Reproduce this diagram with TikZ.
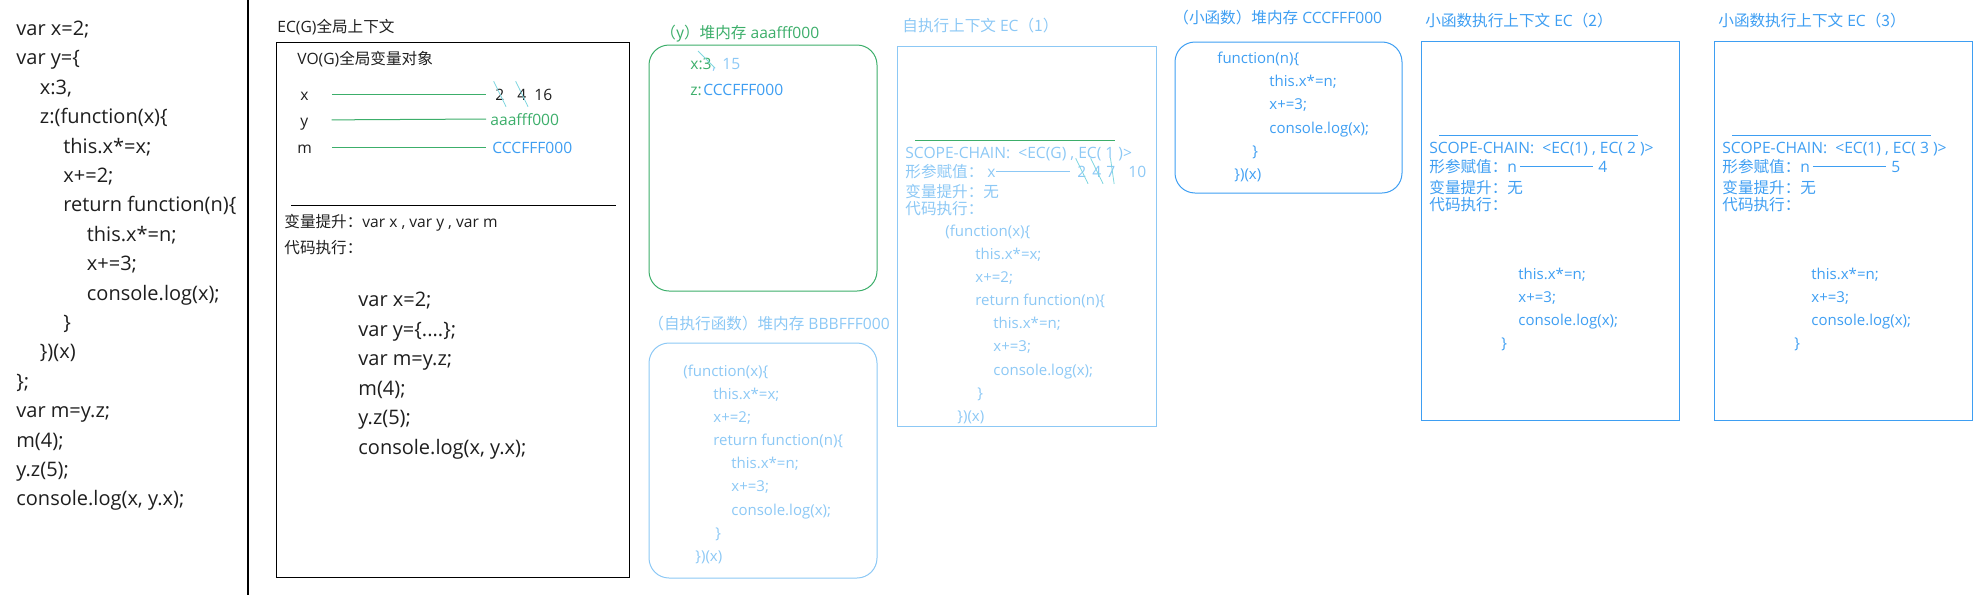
\documentclass[tikz,border=0pt]{standalone}
\usepackage{fontspec}
\setmainfont{Open Sans}
\newfontfamily\cjk{Noto Sans CJK SC}
\usepackage{tikz}
\usetikzlibrary{positioning}
\definecolor{jsgreen}{HTML}{3CAE6A}
\definecolor{jsblue}{HTML}{3E9EF2}
\definecolor{jslight}{HTML}{8CC8F5}
\definecolor{jsstrike}{HTML}{7FD6DF}
\definecolor{jsink}{HTML}{1E1E1E}
\newcommand{\zh}[1]{{\cjk #1}}
\newcommand{\codesize}{\fontsize{10}{12}\selectfont}
\newcommand{\smallsize}{\fontsize{7.5}{9}\selectfont}
\newcommand{\labelsize}{\fontsize{7.8}{9}\selectfont}
\tikzset{
  txt/.style={anchor=west, inner sep=0pt, text height=1.5ex, text depth=0.3ex, text=jsink},
  code/.style={txt, font=\codesize},
  smallcode/.style={txt, font=\smallsize},
  lbl/.style={txt, font=\labelsize},
  heap/.style={rounded corners=10pt, line width=0.5pt},
  ctxbox/.style={line width=0.5pt},
  strike/.style={draw=jsstrike, line width=0.4pt, shorten <=-1.5pt, shorten >=-1.5pt},
}
% body of the self-invoking function: line/xshift/text
\newcommand{\selfcode}{1/0/(function(x)\{, 2/30/this.x*=x;, 3/30/x+=2;,
  4/30/return function(n)\{, 5/48/this.x*=n;, 6/48/x+=3;,
  7/48/console.log(x);, 8/32/\}, 9/12/\})(x)}

\begin{document}
\begin{tikzpicture}[x=0.5pt, y=-0.5pt]

\useasboundingbox (0,0) rectangle (1984,595);

% ---------- Source code ----------
\foreach \i/\ind/\t in {1/0/var x=2;, 2/0/var y=\{, 3/1/{x:3,}, 4/1/z:(function(x)\{,
  5/2/this.x*=x;, 6/2/x+=2;, 7/2/return function(n)\{, 8/3/this.x*=n;, 9/3/x+=3;,
  10/3/console.log(x);, 11/2/\}, 12/1/\})(x), 13/0/\};, 14/0/var m=y.z;,
  15/0/m(4);, 16/0/y.z(5);, 17/0/{console.log(x, y.x);}}{
  \node[code] (src\i) at ({16+\ind*23.5},{29+(\i-1)*29.4}) {\t};
}

% divider
\draw[line width=0.8pt] (248,0) -- (248,595);

% ---------- Global context EC(G) ----------
\node[lbl] (ecgTitle) at (277,26) {EC(G)\zh{全局上下文}};
\draw[ctxbox] (276,42) rectangle (629,577);
\node[lbl] (voTitle) at (297,58) {VO(G)\zh{全局变量对象}};

\node[lbl] (varx) at (300,94) {x};
\node[lbl] (vary) at (300,120) {y};
\node[lbl] (varm) at (297,147) {m};

\foreach \v/\px in {2/495, 4/517, 16/534}{
  \node[lbl] (valx\v) at (\px,94) {\v};
}
\node[lbl, text=jsgreen] (valy) at (490,119) {aaafff000};
\node[lbl, text=jsblue] (valm) at (492,147) {CCCFFF000};

\foreach \a/\b/\s/\e in {varx/valx2/11.5/4.5, vary/valy/11.5/2, varm/valm/9.75/3}{
  \draw[jsgreen, line width=0.5pt, shorten <=\s pt, shorten >=\e pt] (\a.east) -- (\b.west);
}
\foreach \v in {2,4}{
  \draw[strike] (valx\v.north west) -- (valx\v.south east);
}

\draw[line width=0.5pt] (291,205) -- (616,205);
\node[lbl] (ecgHoist) at (284,221) {\zh{变量提升：}var x , var y , var m};
\node[lbl] (ecgExec) at (284,247) {\zh{代码执行：}};

\foreach \i/\t in {1/var x=2;, 2/{var y=\{....\};}, 3/var m=y.z;, 4/m(4);,
  5/y.z(5);, 6/{console.log(x, y.x);}}{
  \node[code] (ecgCode\i) at (358,{300+(\i-1)*29.6}) {\t};
}

% ---------- Heap of y ----------
\node[lbl, text=jsgreen] (yHeapTitle) at (660,32) {\zh{（y）堆内存} aaafff000};
\draw[heap, jsgreen] (649,45) rectangle (877,291);
\node[lbl, text=jsgreen] (heapx) at (690,63) {x:3};
\node[lbl, text=jslight, font=\smallsize, anchor=south west] (heapxc) at (heapx.south east) {,};
\node[lbl, text=jslight] (heapx15) at (722,63) {15};
\draw[strike, shorten <=0pt] (698,51) -- (713,66);
\node[lbl, text=jsgreen] (heapz) at (690,89) {z:};
\node[lbl, text=jsblue] (heapzv) at (703,89) {CCCFFF000};

% ---------- Heap of the self-invoking function ----------
\node[lbl, text=jslight] (selfHeapTitle) at (648,323) {\zh{（自执行函数）堆内存} BBBFFF000};
\draw[heap, jslight] (649,343) rectangle (877,578);
\foreach \i/\dx/\t in \selfcode{
  \node[smallcode, text=jslight] (selfCode\i) at ({683+\dx},{370+(\i-1)*23.1}) {\t};
}

% ---------- EC(1) ----------
\node[lbl, text=jslight] (ec1Title) at (902,25) {\zh{自执行上下文} EC\zh{（1）}};
\draw[ctxbox, jslight] (897,46) rectangle (1156,426);
\draw[jsgreen, line width=0.5pt] (915,140) -- (1115,140);
\node[lbl, text=jslight] (ec1Scope) at (905,152) {SCOPE-CHAIN:\ \ <EC(G) , EC( 1 )>};
\node[lbl, text=jslight] (ec1Arg) at (905,171) {\zh{形参赋值：}};
\node[lbl, text=jslight] (ec1x) at (987,171) {x};
\foreach \v/\px in {2/1077, 4/1092, 7/1106, 10/1128}{
  \node[lbl, text=jslight] (ec1v\v) at (\px,171) {\v};
}
\draw[jslight, line width=0.5pt, shorten >=3.5pt] (ec1x.east) -- (ec1v2.west);
\foreach \v in {2,4}{
  \draw[strike] (ec1v\v.north west) -- (ec1v\v.south east);
}
\draw[strike] (ec1v7.north) -- ([xshift=-1pt]ec1v7.south east);
\node[lbl, text=jslight] (ec1Hoist) at (905,191) {\zh{变量提升：}};
\node[lbl, text=jslight] (ec1None) at (983,191) {\zh{无}};
\node[lbl, text=jslight] (ec1Exec) at (905,208) {\zh{代码执行：}};
\foreach \i/\dx/\t in \selfcode{
  \node[smallcode, text=jslight] (ec1Code\i) at ({945+\dx},{230+(\i-1)*23.1}) {\t};
}

% ---------- Heap of the small function ----------
\node[lbl, text=jsblue] (smallHeapTitle) at (1173,17) {\zh{（小函数）堆内存} CCCFFF000};
\draw[heap, jsblue] (1175,42) rectangle (1402,193);
\foreach \i/\dx/\t in {1/0/function(n)\{, 2/52/this.x*=n;, 3/52/x+=3;,
  4/52/console.log(x);, 5/35/\}, 6/17/\})(x)}{
  \node[smallcode, text=jsblue] (smallCode\i) at ({1217+\dx},{57+(\i-1)*23.2}) {\t};
}

% ---------- EC(2) and EC(3) ----------
\foreach \k/\ox/\n in {2/1421/4, 3/1714/5}{
  \node[lbl, text=jsblue] (ec\k Title) at (\ox+4,20) {\zh{小函数执行上下文} EC\zh{（\k）}};
  \draw[ctxbox, jsblue] (\ox,41) rectangle (\ox+258,420);
  \draw[jsblue, line width=0.5pt] (\ox+18,135) -- (\ox+217,135);
  \node[lbl, text=jsblue] (ec\k Scope) at (\ox+8,147) {SCOPE-CHAIN:\ \ <EC(1) , EC( \k\ )>};
  \node[lbl, text=jsblue] (ec\k Arg) at (\ox+8,166) {\zh{形参赋值：}};
  \node[lbl, text=jsblue] (ec\k n) at (\ox+86,166) {n};
  \node[lbl, text=jsblue] (ec\k v) at (\ox+177,166) {\n};
  \draw[jsblue, line width=0.5pt, shorten <=1.25pt, shorten >=2.5pt] (ec\k n.east) -- (ec\k v.west);
  \node[lbl, text=jsblue] (ec\k Hoist) at (\ox+8,187) {\zh{变量提升：}};
  \node[lbl, text=jsblue] (ec\k None) at (\ox+86,187) {\zh{无}};
  \node[lbl, text=jsblue] (ec\k Exec) at (\ox+8,204) {\zh{代码执行：}};
  \foreach \i/\dx/\t in {1/0/this.x*=n;, 2/0/x+=3;, 3/0/console.log(x);, 4/-17/\}}{
    \node[smallcode, text=jsblue] (ec\k Code\i) at ({\ox+97+\dx},{273+(\i-1)*23}) {\t};
  }
}

\end{tikzpicture}
\end{document}
